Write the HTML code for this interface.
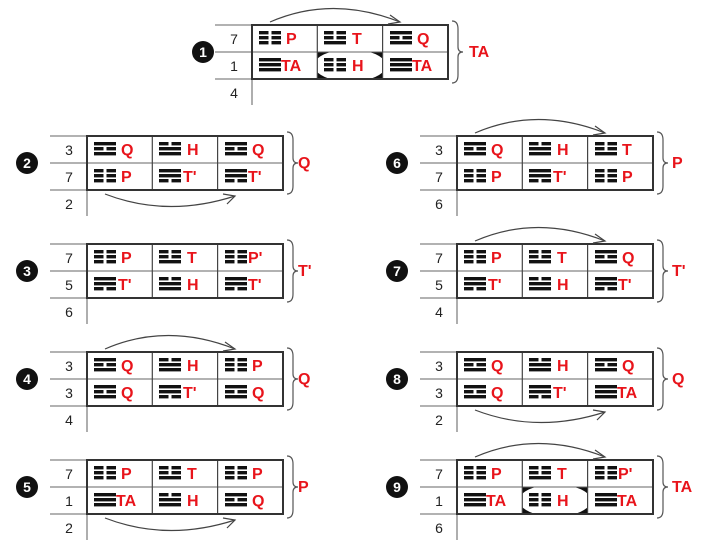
<!DOCTYPE html>
<html><head><meta charset="utf-8"><style>
html,body{margin:0;padding:0;background:#fff;}
svg{display:block;}
.n{font:14px "Liberation Sans",sans-serif;fill:#222;text-anchor:middle;}
.l{font:bold 16px "Liberation Sans",sans-serif;fill:#e8141b;}
.b{font:bold 16px "Liberation Sans",sans-serif;fill:#e8141b;}
.c{font:bold 14px "Liberation Sans",sans-serif;fill:#fff;text-anchor:middle;}
</style></head><body>
<svg width="707" height="544" viewBox="0 0 707 544" xmlns="http://www.w3.org/2000/svg">
<defs>
<clipPath id="cc"><rect x="65.3" y="27" width="65.3" height="27"/></clipPath>
<g id="S"><rect width="22" height="3.4" fill="#111"/></g>
<g id="B"><rect width="9.5" height="3.4" fill="#111"/><rect x="12.5" width="9.5" height="3.4" fill="#111"/></g>
<g id="tP"><use href="#B" y="0"/><use href="#B" y="5"/><use href="#B" y="10"/></g>
<g id="tT"><use href="#B" y="0"/><use href="#B" y="5"/><use href="#S" y="10"/></g>
<g id="tQ"><use href="#S" y="0"/><use href="#B" y="5"/><use href="#S" y="10"/></g>
<g id="tH"><use href="#B" y="0"/><use href="#S" y="5"/><use href="#S" y="10"/></g>
<g id="tA"><use href="#S" y="0"/><use href="#S" y="5"/><use href="#S" y="10"/></g>
<g id="tU"><use href="#S" y="0"/><use href="#S" y="5"/><use href="#B" y="10"/></g>
<g id="F" fill="none">
<line x1="-37" y1="0" x2="0" y2="0" stroke="#666" stroke-width="1"/>
<line x1="-37" y1="27" x2="196" y2="27" stroke="#666" stroke-width="1"/>
<line x1="-37" y1="54" x2="0" y2="54" stroke="#666" stroke-width="1"/>
<line x1="65.3" y1="0" x2="65.3" y2="54" stroke="#444" stroke-width="1.2"/>
<line x1="130.6" y1="0" x2="130.6" y2="54" stroke="#444" stroke-width="1.2"/>
<line x1="0" y1="54" x2="0" y2="80" stroke="#777" stroke-width="1.2"/>
<rect x="0" y="0" width="196" height="54" stroke="#333" stroke-width="2"/>
<path d="M200,-4 Q206,-4 206,4 L206,22 Q206,27 211,27 Q206,27 206,32 L206,50 Q206,58 200,58" stroke="#555" stroke-width="1.2"/>
</g>
<g id="AU" fill="none" stroke="#444" stroke-width="1.2"><path d="M18,-3 Q80,-30 148,-3"/><path d="M138,-10 L148,-3 L136,-1"/></g>
<g id="AD" fill="none" stroke="#444" stroke-width="1.2"><path d="M18,58 Q80,82 148,60"/><path d="M136,58 L148,60 L140,68"/></g>
<g id="E"><rect x="65.3" y="27" width="65.3" height="27" fill="#111"/><ellipse clip-path="url(#cc)" cx="98" cy="40.5" rx="36" ry="16" fill="#fff"/></g>
</defs>

<!-- Block 1 -->
<g transform="translate(252,25)">
<use href="#E"/><use href="#F"/><use href="#AU"/>
<circle cx="-49" cy="27" r="11" fill="#111"/><text class="c" x="-49" y="32">1</text>
<text class="n" x="-18" y="19">7</text><text class="n" x="-18" y="46">1</text><text class="n" x="-18" y="73">4</text>
<use href="#tP" x="7" y="6"/><text class="l" x="34" y="19">P</text>
<use href="#tT" x="72" y="6"/><text class="l" x="100" y="19">T</text>
<use href="#tQ" x="138" y="6"/><text class="l" x="165" y="19">Q</text>
<use href="#tA" x="7" y="33"/><text class="l" x="29" y="46">TA</text>
<use href="#tP" x="72" y="33"/><text class="l" x="100" y="46">H</text>
<use href="#tA" x="138" y="33"/><text class="l" x="160" y="46">TA</text>
<text class="b" x="217" y="32">TA</text>
</g>

<!-- Block 2 -->
<g transform="translate(87,136)">
<use href="#F"/><use href="#AD"/>
<circle cx="-60" cy="27" r="11" fill="#111"/><text class="c" x="-60" y="32">2</text>
<text class="n" x="-18" y="19">3</text><text class="n" x="-18" y="46">7</text><text class="n" x="-18" y="73">2</text>
<use href="#tQ" x="7" y="6"/><text class="l" x="34" y="19">Q</text>
<use href="#tH" x="72" y="6"/><text class="l" x="100" y="19">H</text>
<use href="#tQ" x="138" y="6"/><text class="l" x="165" y="19">Q</text>
<use href="#tP" x="7" y="33"/><text class="l" x="34" y="46">P</text>
<use href="#tU" x="72" y="33"/><text class="l" x="96" y="46">T'</text>
<use href="#tU" x="138" y="33"/><text class="l" x="161" y="46">T'</text>
<text class="b" x="211" y="32">Q</text>
</g>

<!-- Block 3 -->
<g transform="translate(87,244)">
<use href="#F"/>
<circle cx="-60" cy="27" r="11" fill="#111"/><text class="c" x="-60" y="32">3</text>
<text class="n" x="-18" y="19">7</text><text class="n" x="-18" y="46">5</text><text class="n" x="-18" y="73">6</text>
<use href="#tP" x="7" y="6"/><text class="l" x="34" y="19">P</text>
<use href="#tT" x="72" y="6"/><text class="l" x="100" y="19">T</text>
<use href="#tP" x="138" y="6"/><text class="l" x="161" y="19">P'</text>
<use href="#tU" x="7" y="33"/><text class="l" x="31" y="46">T'</text>
<use href="#tH" x="72" y="33"/><text class="l" x="100" y="46">H</text>
<use href="#tU" x="138" y="33"/><text class="l" x="161" y="46">T'</text>
<text class="b" x="211" y="32">T'</text>
</g>

<!-- Block 4 -->
<g transform="translate(87,352)">
<use href="#F"/><use href="#AU"/>
<circle cx="-60" cy="27" r="11" fill="#111"/><text class="c" x="-60" y="32">4</text>
<text class="n" x="-18" y="19">3</text><text class="n" x="-18" y="46">3</text><text class="n" x="-18" y="73">4</text>
<use href="#tQ" x="7" y="6"/><text class="l" x="34" y="19">Q</text>
<use href="#tH" x="72" y="6"/><text class="l" x="100" y="19">H</text>
<use href="#tP" x="138" y="6"/><text class="l" x="165" y="19">P</text>
<use href="#tQ" x="7" y="33"/><text class="l" x="34" y="46">Q</text>
<use href="#tU" x="72" y="33"/><text class="l" x="96" y="46">T'</text>
<use href="#tQ" x="138" y="33"/><text class="l" x="165" y="46">Q</text>
<text class="b" x="211" y="32">Q</text>
</g>

<!-- Block 5 -->
<g transform="translate(87,460)">
<use href="#F"/><use href="#AD"/>
<circle cx="-60" cy="27" r="11" fill="#111"/><text class="c" x="-60" y="32">5</text>
<text class="n" x="-18" y="19">7</text><text class="n" x="-18" y="46">1</text><text class="n" x="-18" y="73">2</text>
<use href="#tP" x="7" y="6"/><text class="l" x="34" y="19">P</text>
<use href="#tT" x="72" y="6"/><text class="l" x="100" y="19">T</text>
<use href="#tP" x="138" y="6"/><text class="l" x="165" y="19">P</text>
<use href="#tA" x="7" y="33"/><text class="l" x="29" y="46">TA</text>
<use href="#tH" x="72" y="33"/><text class="l" x="100" y="46">H</text>
<use href="#tQ" x="138" y="33"/><text class="l" x="165" y="46">Q</text>
<text class="b" x="211" y="32">P</text>
</g>

<!-- Block 6 -->
<g transform="translate(457,136)">
<use href="#F"/><use href="#AU"/>
<circle cx="-60" cy="27" r="11" fill="#111"/><text class="c" x="-60" y="32">6</text>
<text class="n" x="-18" y="19">3</text><text class="n" x="-18" y="46">7</text><text class="n" x="-18" y="73">6</text>
<use href="#tQ" x="7" y="6"/><text class="l" x="34" y="19">Q</text>
<use href="#tH" x="72" y="6"/><text class="l" x="100" y="19">H</text>
<use href="#tT" x="138" y="6"/><text class="l" x="165" y="19">T</text>
<use href="#tP" x="7" y="33"/><text class="l" x="34" y="46">P</text>
<use href="#tU" x="72" y="33"/><text class="l" x="96" y="46">T'</text>
<use href="#tP" x="138" y="33"/><text class="l" x="165" y="46">P</text>
<text class="b" x="215" y="32">P</text>
</g>

<!-- Block 7 -->
<g transform="translate(457,244)">
<use href="#F"/><use href="#AU"/>
<circle cx="-60" cy="27" r="11" fill="#111"/><text class="c" x="-60" y="32">7</text>
<text class="n" x="-18" y="19">7</text><text class="n" x="-18" y="46">5</text><text class="n" x="-18" y="73">4</text>
<use href="#tP" x="7" y="6"/><text class="l" x="34" y="19">P</text>
<use href="#tT" x="72" y="6"/><text class="l" x="100" y="19">T</text>
<use href="#tQ" x="138" y="6"/><text class="l" x="165" y="19">Q</text>
<use href="#tU" x="7" y="33"/><text class="l" x="31" y="46">T'</text>
<use href="#tH" x="72" y="33"/><text class="l" x="100" y="46">H</text>
<use href="#tU" x="138" y="33"/><text class="l" x="161" y="46">T'</text>
<text class="b" x="215" y="32">T'</text>
</g>

<!-- Block 8 -->
<g transform="translate(457,352)">
<use href="#F"/><use href="#AD"/>
<circle cx="-60" cy="27" r="11" fill="#111"/><text class="c" x="-60" y="32">8</text>
<text class="n" x="-18" y="19">3</text><text class="n" x="-18" y="46">3</text><text class="n" x="-18" y="73">2</text>
<use href="#tQ" x="7" y="6"/><text class="l" x="34" y="19">Q</text>
<use href="#tH" x="72" y="6"/><text class="l" x="100" y="19">H</text>
<use href="#tQ" x="138" y="6"/><text class="l" x="165" y="19">Q</text>
<use href="#tQ" x="7" y="33"/><text class="l" x="34" y="46">Q</text>
<use href="#tU" x="72" y="33"/><text class="l" x="96" y="46">T'</text>
<use href="#tA" x="138" y="33"/><text class="l" x="160" y="46">TA</text>
<text class="b" x="215" y="32">Q</text>
</g>

<!-- Block 9 -->
<g transform="translate(457,460)">
<use href="#E"/><use href="#F"/><use href="#AU"/>
<circle cx="-60" cy="27" r="11" fill="#111"/><text class="c" x="-60" y="32">9</text>
<text class="n" x="-18" y="19">7</text><text class="n" x="-18" y="46">1</text><text class="n" x="-18" y="73">6</text>
<use href="#tP" x="7" y="6"/><text class="l" x="34" y="19">P</text>
<use href="#tT" x="72" y="6"/><text class="l" x="100" y="19">T</text>
<use href="#tP" x="138" y="6"/><text class="l" x="161" y="19">P'</text>
<use href="#tA" x="7" y="33"/><text class="l" x="29" y="46">TA</text>
<use href="#tP" x="72" y="33"/><text class="l" x="100" y="46">H</text>
<use href="#tA" x="138" y="33"/><text class="l" x="160" y="46">TA</text>
<text class="b" x="215" y="32">TA</text>
</g>
</svg>
</body></html>
